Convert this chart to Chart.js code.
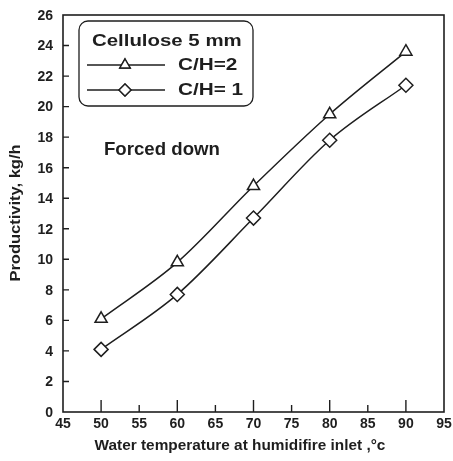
<!DOCTYPE html>
<html>
<head>
<meta charset="utf-8">
<script src="https://cdn.jsdelivr.net/npm/chart.js@4"></script>
<style>
  html, body { margin: 0; padding: 0; background: #fff; }
  #wrap { width: 453px; height: 461px; }
</style>
</head>
<body>
<div id="wrap"><canvas id="chart" width="453" height="461"></canvas></div>
<script>
// data
const temps = [50, 60, 70, 80, 90];
const ch2 = [6.1, 9.8, 14.8, 19.5, 23.6];
const ch1 = [4.1, 7.7, 12.7, 17.8, 21.4];
const seriesNames = ["C/H=2", "C/H= 1"];
const xTicks = [45, 50, 55, 60, 65, 70, 75, 80, 85, 90, 95];
const yTicks = [0, 2, 4, 6, 8, 10, 12, 14, 16, 18, 20, 22, 24, 26];
const legendTitle = "Cellulose 5 mm";
const noteText = "Forced down";
const xTitle = "Water temperature at humidifire inlet ,\u00b0c";
const yTitle = "Productivity, kg/h";

const ink = "#1e1e1e";
const fontFam = "'Liberation Sans', Arial, sans-serif";

function toPoints(xs, ys) {
  return xs.map((x, i) => ({ x: x, y: ys[i] }));
}

// text a bit wider than the font gives, like the scan
function wideText(ctx, txt, x, y, sx) {
  ctx.save();
  ctx.translate(x, y);
  ctx.scale(sx, 1);
  ctx.fillText(txt, 0, 0);
  ctx.restore();
}

// frame, inward ticks, tick labels, legend box, note and axis titles
const decor = {
  id: "decor",
  afterDraw(chart) {
    const ctx = chart.ctx;
    const a = chart.chartArea;
    const xs = chart.scales.x;
    const ys = chart.scales.y;
    ctx.save();
    ctx.strokeStyle = ink;
    ctx.lineWidth = 1.6;
    ctx.strokeRect(a.left, a.top, a.right - a.left, a.bottom - a.top);

    // inward ticks
    ctx.lineWidth = 1.4;
    ctx.beginPath();
    yTicks.forEach((v) => {
      if (v === 0 || v === 26) return;
      const py = ys.getPixelForValue(v);
      ctx.moveTo(a.left, py);
      ctx.lineTo(a.left + 6, py);
    });
    xTicks.forEach((v) => {
      if (v === 45 || v === 95) return;
      const px = xs.getPixelForValue(v);
      const len = v % 10 === 0 ? 12 : 7;
      ctx.moveTo(px, a.bottom);
      ctx.lineTo(px, a.bottom - len);
    });
    ctx.stroke();

    // tick labels
    ctx.fillStyle = ink;
    ctx.font = "bold 14px " + fontFam;
    ctx.textBaseline = "middle";
    ctx.textAlign = "right";
    yTicks.forEach((v) => ctx.fillText(String(v), a.left - 10, ys.getPixelForValue(v) + 1));
    ctx.textAlign = "center";
    xTicks.forEach((v) => ctx.fillText(String(v), xs.getPixelForValue(v), a.bottom + 12));

    // legend box
    const bx = 79, by = 21, bw = 174, bh = 85, r = 9;
    ctx.lineWidth = 1.3;
    ctx.beginPath();
    ctx.roundRect(bx, by, bw, bh, r);
    ctx.fillStyle = "#fff";
    ctx.fill();
    ctx.stroke();
    ctx.fillStyle = ink;
    ctx.font = "bold 17px " + fontFam;
    ctx.textAlign = "left";
    wideText(ctx, legendTitle, bx + 13, by + 20, 1.2);
    const rows = [by + 44, by + 69];
    const styles = ["triangle", "rectRot"];
    rows.forEach((ry, i) => {
      ctx.beginPath();
      ctx.lineWidth = 1.3;
      ctx.moveTo(bx + 8, ry);
      ctx.lineTo(bx + 86, ry);
      ctx.stroke();
      ctx.fillStyle = "#fff";
      ctx.lineWidth = 1.4;
      Chart.helpers.drawPoint(ctx, { pointStyle: styles[i], radius: 6, borderWidth: 1.4 }, bx + 46, ry);
      ctx.fill();
      ctx.stroke();
      ctx.fillStyle = ink;
      ctx.font = "bold 17px " + fontFam;
      wideText(ctx, seriesNames[i], bx + 99, ry, 1.22);
    });

    // note
    ctx.font = "bold 19px " + fontFam;
    wideText(ctx, noteText, 104, 150, 0.98);

    // axis titles
    ctx.font = "bold 14.5px " + fontFam;
    ctx.textAlign = "center";
    wideText(ctx, xTitle, 240, 446, 1.06);
    ctx.save();
    ctx.translate(16, 213);
    ctx.rotate(-Math.PI / 2);
    ctx.font = "bold 15px " + fontFam;
    wideText(ctx, yTitle, 0, 0, 1.1);
    ctx.restore();
    ctx.restore();
  }
};

new Chart(document.getElementById("chart"), {
  type: "line",
  data: {
    datasets: [
      {
        label: seriesNames[0],
        data: toPoints(temps, ch2),
        pointStyle: "triangle",
      },
      {
        label: seriesNames[1],
        data: toPoints(temps, ch1),
        pointStyle: "rectRot",
      },
    ].map((d) => Object.assign(d, {
      borderColor: ink,
      borderWidth: 1.5,
      backgroundColor: "#fff",
      pointBackgroundColor: "#fff",
      pointBorderColor: ink,
      pointBorderWidth: 1.5,
      pointRadius: 7,
      cubicInterpolationMode: "monotone",
      fill: false,
    })),
  },
  options: {
    responsive: false,
    animation: false,
    layout: { padding: { left: 0, right: 9, top: 15, bottom: 0 } },
    plugins: { legend: { display: false }, tooltip: { enabled: false } },
    scales: {
      x: {
        type: "linear",
        min: 45,
        max: 95,
        grid: { display: false, drawTicks: false },
        border: { display: false },
        ticks: { display: false, stepSize: 5 },
        afterFit(s) { s.height = 49; },
      },
      y: {
        min: 0,
        max: 26,
        grid: { display: false, drawTicks: false },
        border: { display: false },
        ticks: { display: false, stepSize: 2 },
        afterFit(s) { s.width = 63; },
      },
    },
  },
  plugins: [decor],
});
</script>
</body>
</html>
